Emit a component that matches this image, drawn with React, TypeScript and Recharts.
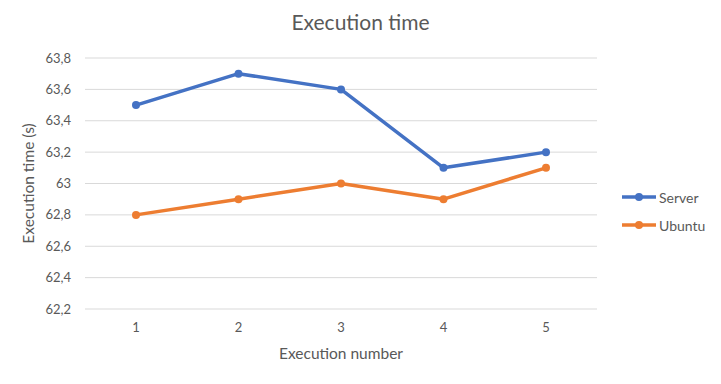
import React from 'react';
import { LineChart, Line, XAxis, YAxis, CartesianGrid } from 'recharts';

const runs = ['1', '2', '3', '4', '5'];
const serverTimes = [63.5, 63.7, 63.6, 63.1, 63.2];
const ubuntuTimes = [62.8, 62.9, 63.0, 62.9, 63.1];
const yTicks = [62.2, 62.4, 62.6, 62.8, 63.0, 63.2, 63.4, 63.6, 63.8];

const data = runs.map((run, i) => ({ run, Server: serverTimes[i], Ubuntu: ubuntuTimes[i] }));

const FONT = 'Lato, "Noto Sans", sans-serif';
const TEXT = '#595959';

const fmt = (v: number) => String(Math.round(v * 10) / 10).replace('.', ',');

const series = [
  { name: 'Server', color: '#4472C4' },
  { name: 'Ubuntu', color: '#ED7D31' },
];

const App: React.FC = () => {
  return (
    <div style={{ position: 'absolute', left: 0, top: 0, width: 721, height: 384, background: '#fff' }}>
      <div
        style={{
          position: 'absolute',
          top: 9,
          width: 721,
          textAlign: 'center',
          fontFamily: FONT,
          fontSize: 21,
          color: TEXT,
        }}
      >
        Execution time
      </div>
      <LineChart width={721} height={384} data={data} margin={{ top: 58, right: 124, bottom: 25, left: 0 }}>
        <CartesianGrid vertical={false} stroke="#d9d9d9" />
        <XAxis
          dataKey="run"
          axisLine={false}
          tickLine={false}
          tickSize={0}
          tickMargin={14}
          height={50}
          padding={{ left: 51, right: 51 }}
          tick={{ fill: TEXT, fontSize: 13, fontFamily: FONT }}
          label={{ value: 'Execution number', position: 'insideBottom', offset: 0, fill: TEXT, fontSize: 15.5, fontFamily: FONT }}
        />
        <YAxis
          width={85}
          domain={[62.2, 63.8]}
          ticks={yTicks}
          axisLine={false}
          tickLine={false}
          tickSize={0}
          tickMargin={14}
          tickFormatter={fmt}
          tick={{ fill: TEXT, fontSize: 13, fontFamily: FONT }}
          label={{
            value: 'Execution time (s)',
            angle: -90,
            position: 'insideLeft',
            offset: 28,
            fill: TEXT,
            fontSize: 15.5,
            fontFamily: FONT,
            style: { textAnchor: 'middle' },
          }}
        />
        <Line
          type="linear"
          dataKey="Server"
          stroke="#4472C4"
          strokeWidth={3.5}
          strokeLinejoin="round"
          dot={{ r: 4, fill: '#4472C4', stroke: '#4472C4', strokeWidth: 0 }}
          activeDot={false}
          isAnimationActive={false}
        />
        <Line
          type="linear"
          dataKey="Ubuntu"
          stroke="#ED7D31"
          strokeWidth={3.5}
          strokeLinejoin="round"
          dot={{ r: 4, fill: '#ED7D31', stroke: '#ED7D31', strokeWidth: 0 }}
          activeDot={false}
          isAnimationActive={false}
        />
      </LineChart>
      {/* legend sits to the right of the plot, like Excel's */}
      <div style={{ position: 'absolute', left: 621, top: 183, fontFamily: FONT, fontSize: 14, color: TEXT }}>
        {series.map((s) => (
          <div key={s.name} style={{ display: 'flex', alignItems: 'center', height: 28 }}>
            <svg width={36} height={10} style={{ marginRight: 2 }}>
              <line x1={1} y1={5} x2={35} y2={5} stroke={s.color} strokeWidth={3.5} />
              <circle cx={18} cy={5} r={4} fill={s.color} />
            </svg>
            <span>{s.name}</span>
          </div>
        ))}
      </div>
    </div>
  );
};

export default App;
